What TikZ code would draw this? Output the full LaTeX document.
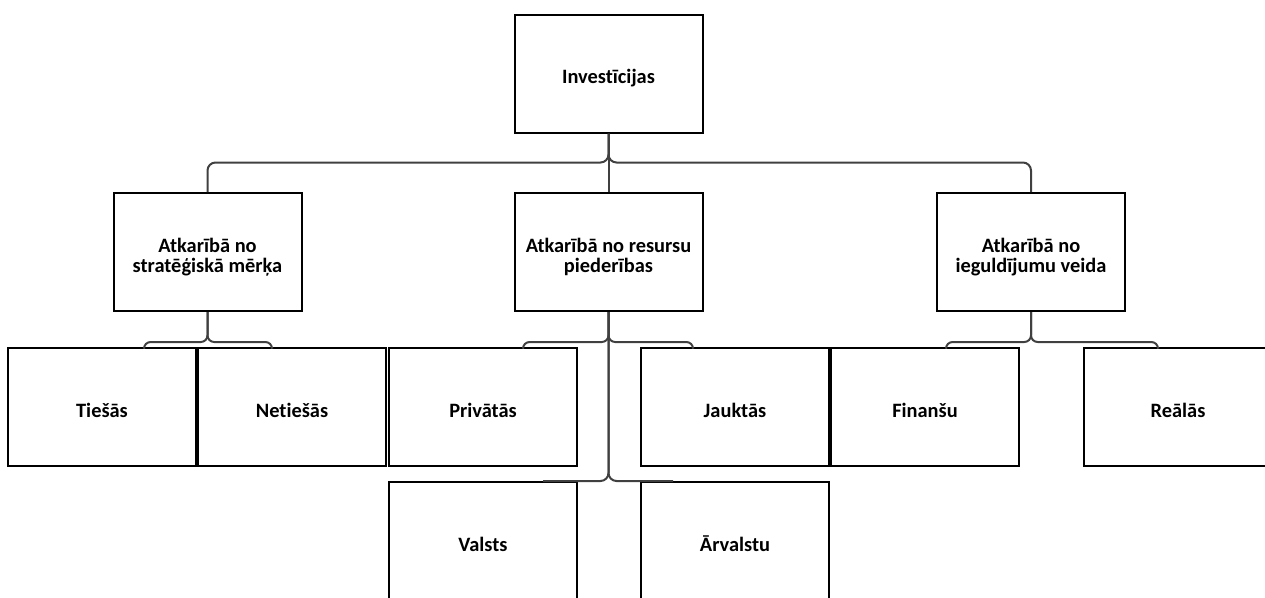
\documentclass[tikz,border=0pt]{standalone}
\usepackage{fontspec}
\setmainfont{Carlito}[Ligatures=NoCommon]
\usetikzlibrary{calc}
\definecolor{linkGray}{HTML}{404040}
\newcommand{\levelBox}[5]{%%
  \node[boxStyle,#5] (#1) at (#2,#3) {#4};
}

\begin{document}
\begin{tikzpicture}[%%
  x=0.75pt,y=-0.75pt,%%
  boxStyle/.style={draw,line width=1.5pt,minimum width=141pt,minimum height=88.5pt,inner sep=2pt,align=center,font=\bfseries\fontsize{15.3}{15}\selectfont},%%
  oneLine/.style={text height=15pt,text depth=0pt},%%
  twoLines/.style={text height=30pt,text depth=0pt},%%
  linkStyle/.style={draw=linkGray,line width=1.5pt,rounded corners=6pt},%%
  braceStyle/.style={linkStyle,rounded corners=5pt}%%
]
\useasboundingbox (0,0) rectangle (1265,597);
%% The root.
\levelBox{root}{608.5}{73.5}{Investīcijas}{oneLine}
%% The second level.
\levelBox{strat}{207.5}{252}{Atkarībā no\\stratēģiskā mērķa}{twoLines}
\levelBox{owner}{608.5}{252}{Atkarībā no resursu\\piederības}{twoLines}
\levelBox{kind}{1031}{252}{Atkarībā no\\ieguldījumu veida}{twoLines}
%% The third level.
\levelBox{tiesas}{102}{407}{Tiešās}{oneLine}
\levelBox{netiesas}{292}{407}{Netiešās}{oneLine}
\levelBox{privatas}{483}{407}{Privātās}{oneLine}
\levelBox{jauktas}{735}{407}{Jauktās}{oneLine}
\levelBox{finansu}{925}{407}{Finanšu}{oneLine}
\levelBox{realas}{1178}{407}{Reālās}{oneLine}
%% The fourth level.
\levelBox{valsts}{483}{541}{Valsts}{oneLine}
\levelBox{arvalstu}{735}{541}{Ārvalstu}{oneLine}
%% The bus under the root.
\draw[linkStyle] (root.south) -- (owner.north);
\draw[linkStyle] (root.south) -- ++(0,29) -| (strat.north);
\draw[linkStyle] (root.south) -- ++(0,29) -| (kind.north);
%% The braces.
\draw[braceStyle] (strat.south) -- ++(0,30) -| ($(tiesas.north)+(42,0)$);
\draw[braceStyle] (strat.south) -- ++(0,30) -| ($(netiesas.north)+(-20,0)$);
\draw[braceStyle] (owner.south) -- ++(0,30) -| ($(privatas.north)+(40,0)$);
\draw[braceStyle] (owner.south) -- ++(0,30) -| ($(jauktas.north)+(-42,0)$);
\draw[braceStyle] (kind.south) -- ++(0,30) -| ($(finansu.north)+(21,0)$);
\draw[braceStyle] (kind.south) -- ++(0,30) -| ($(realas.north)+(-20,0)$);
\draw[linkStyle] (owner.south) -- (owner.south |- valsts.north) -- ($(valsts.north)+(60,0)$);
\draw[linkStyle] (owner.south) -- (owner.south |- arvalstu.north) -- ($(arvalstu.north)+(-62,0)$);
\end{tikzpicture}
\end{document}
